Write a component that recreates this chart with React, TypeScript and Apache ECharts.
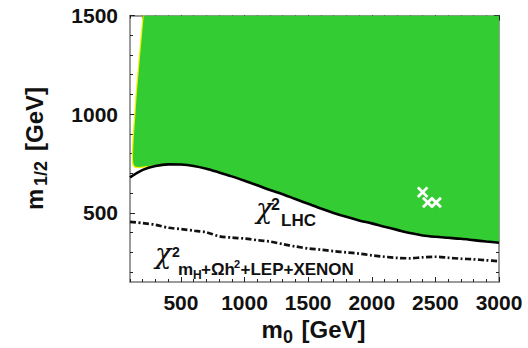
import React, { useEffect, useRef } from "react";
import * as echarts from "echarts";

// m0 grid (GeV) shared by both exclusion contours
const m0Grid = [
  100, 200, 300, 400, 500, 600, 700, 800, 900, 1000, 1100, 1200, 1300, 1400, 1500,
  1600, 1700, 1800, 1900, 2000, 2100, 2200, 2300, 2400, 2500, 2600, 2700, 2800, 2900, 3000,
];

// chi^2 LHC contour: m1/2 (GeV)
const lhcM12 = [
  680, 718, 738, 746, 745, 738, 724, 705, 685, 663, 640, 616, 595, 570, 546,
  522, 500, 480, 462, 447, 430, 414, 398, 386, 379, 374, 369, 362, 355, 349,
];

// chi^2 mH + Omega h^2 + LEP + XENON contour: m1/2 (GeV)
const lowM12 = [
  455, 448, 440, 425, 418, 410, 402, 382, 375, 370, 362, 355, 342, 330, 320,
  314, 306, 300, 294, 285, 278, 272, 270, 275, 278, 273, 268, 265, 260, 255,
];

// left / lower edge of the favoured (green) region, before it meets the LHC contour
const edgeM0 = [208, 197, 184, 172, 161, 151, 143, 135, 128, 124, 124, 129, 141, 170, 230, 300, 380];
const edgeM12 = [1500, 1420, 1330, 1240, 1160, 1080, 1000, 930, 860, 800, 765, 745, 735, 733, 737, 741, 746];

// best-fit points
const crossM0 = [2400, 2440, 2506];
const crossM12 = [605, 553, 553];

// axes
const X_MIN = 100;
const X_MAX = 3000;
const Y_MIN = 150;
const Y_MAX = 1500;
const xMajor = [500, 1000, 1500, 2000, 2500, 3000];
const xMinor = Array.from({ length: 30 }, (_, i) => (i + 1) * 100);
const yMajor = [500, 1000, 1500];
const yMinor = Array.from({ length: 14 }, (_, i) => (i + 2) * 100);

const GREEN = "#33cc33";
const YELLOW = "#f2f200";
const FRAME = "#7a7a7a";
const TICK = "#222222";
const SANS = "'Liberation Sans', Arial, Helvetica, sans-serif";
const SERIF = "'DejaVu Serif', 'Liberation Serif', serif";

function buildOption() {
  const pair = (xs: number[], ys: number[]) => xs.map((x, i) => [x, ys[i]]);

  const edge = pair(edgeM0, edgeM12);
  const lhc = pair(m0Grid, lhcM12);
  const greenRegion = [
    ...edge,
    ...lhc.filter((p) => p[0] >= 500),
    [X_MAX, Y_MAX],
  ];

  const axisLine = { show: true, onZero: false, lineStyle: { color: FRAME, width: 1.5 } };
  const tickStyle = { color: TICK, width: 1 };
  const labelFont = {
    fontSize: 21,
    fontWeight: "bold" as const,
    color: "#111",
    fontFamily: SANS,
    formatter: (v: number) => String(v),
  };

  const xBase = { type: "value" as const, min: X_MIN, max: X_MAX, splitLine: { show: false } };
  const yBase = { type: "value" as const, min: Y_MIN, max: Y_MAX, splitLine: { show: false } };

  const xAxis = [
    {
      ...xBase,
      position: "bottom",
      axisLine,
      axisTick: { show: true, inside: true, length: 3, customValues: xMinor, lineStyle: tickStyle },
      axisLabel: { show: true, customValues: xMajor, margin: 10, ...labelFont },
    },
    {
      ...xBase,
      position: "bottom",
      axisLine: { show: false },
      axisTick: { show: true, inside: true, length: 5, customValues: xMajor, lineStyle: tickStyle },
      axisLabel: { show: false },
    },
    {
      ...xBase,
      position: "top",
      axisLine,
      axisTick: { show: true, inside: true, length: 3, customValues: xMinor, lineStyle: tickStyle },
      axisLabel: { show: false },
    },
    {
      ...xBase,
      position: "top",
      axisLine: { show: false },
      axisTick: { show: true, inside: true, length: 5, customValues: xMajor, lineStyle: tickStyle },
      axisLabel: { show: false },
    },
  ];

  const yAxis = [
    {
      ...yBase,
      position: "left",
      axisLine,
      axisTick: { show: true, inside: true, length: 3, customValues: yMinor, lineStyle: tickStyle },
      axisLabel: { show: true, customValues: yMajor, margin: 12, ...labelFont },
    },
    {
      ...yBase,
      position: "left",
      axisLine: { show: false },
      axisTick: { show: true, inside: true, length: 5, customValues: yMajor, lineStyle: tickStyle },
      axisLabel: { show: false },
    },
    {
      ...yBase,
      position: "right",
      axisLine,
      axisTick: { show: true, inside: true, length: 3, customValues: yMinor, lineStyle: tickStyle },
      axisLabel: { show: false },
    },
    {
      ...yBase,
      position: "right",
      axisLine: { show: false },
      axisTick: { show: true, inside: true, length: 5, customValues: yMajor, lineStyle: tickStyle },
      axisLabel: { show: false },
    },
  ];

  const txt = (
    x: number,
    y: number,
    text: string,
    fontSize: number,
    opts: Record<string, unknown> = {}
  ) => ({
    type: "text",
    x,
    y,
    silent: true,
    style: {
      text,
      fontSize,
      fontWeight: "bold",
      fontFamily: SANS,
      fill: "#111",
      align: "left",
      verticalAlign: "middle",
      ...opts,
    },
  });
  const chi = (x: number, y: number) =>
    txt(x, y, "χ", 27, { fontFamily: SERIF, fontStyle: "italic", fontWeight: "normal" });

  const graphic = [
    // x-axis title: m0 [GeV]
    txt(261.5, 329.7, "m", 24),
    txt(283, 336.8, "0", 18),
    txt(301.5, 329.7, "[GeV]", 24),
    // y-axis title: m1/2 [GeV]
    {
      type: "group",
      x: 42.5,
      y: 210,
      rotation: Math.PI / 2,
      silent: true,
      children: [txt(0, -8.3, "m", 24), txt(24, -1.7, "1/2", 18), txt(59, -8.3, "[GeV]", 24)],
    },
    // chi^2_LHC
    chi(256, 208),
    txt(271, 204, "2", 16),
    txt(281, 220, "LHC", 17),
    // chi^2_{mH + Omega h^2 + LEP + XENON}
    chi(155, 253),
    txt(172, 252, "2", 14),
    txt(178, 269, "m", 17),
    txt(193, 274.8, "H", 12),
    txt(201, 269, "+Ωh", 17),
    txt(234, 264, "2", 11),
    txt(240.5, 269, "+LEP+XENON", 17),
  ];

  return {
    animation: false,
    backgroundColor: "#ffffff",
    grid: { left: 130, top: 15.5, right: 29, bottom: 66, containLabel: false, outerBoundsMode: "none" },
    xAxis,
    yAxis,
    graphic,
    series: [
      {
        // thin yellow rim around the favoured region
        type: "line",
        data: edge,
        xAxisIndex: 0,
        yAxisIndex: 0,
        showSymbol: false,
        smooth: 0.3,
        lineStyle: { color: YELLOW, width: 2.5 },
        z: 1,
        silent: true,
      },
      {
        type: "custom",
        xAxisIndex: 0,
        yAxisIndex: 0,
        data: [[1000, 1000]],
        clip: true,
        silent: true,
        z: 2,
        renderItem: (_params: unknown, api: any) => ({
          type: "polygon",
          shape: { points: greenRegion.map((p) => api.coord(p)) },
          style: { fill: GREEN },
        }),
      },
      {
        type: "line",
        data: lhc,
        xAxisIndex: 0,
        yAxisIndex: 0,
        showSymbol: false,
        smooth: 0.3,
        lineStyle: { color: "#000", width: 2.6 },
        z: 3,
        silent: true,
      },
      {
        type: "line",
        data: pair(m0Grid, lowM12),
        xAxisIndex: 0,
        yAxisIndex: 0,
        showSymbol: false,
        smooth: 0.3,
        lineStyle: { color: "#111", width: 2.7, type: [6, 2.5, 2, 2.5] },
        z: 3,
        silent: true,
      },
      {
        type: "custom",
        xAxisIndex: 0,
        yAxisIndex: 0,
        data: pair(crossM0, crossM12),
        clip: true,
        silent: true,
        z: 4,
        renderItem: (_params: unknown, api: any) => {
          const [cx, cy] = api.coord([api.value(0), api.value(1)]);
          const h = 4.8;
          const style = { stroke: "#ffffff", lineWidth: 2.8, lineCap: "butt" };
          return {
            type: "group",
            children: [
              { type: "line", shape: { x1: cx - h, y1: cy - h, x2: cx + h, y2: cy + h }, style },
              { type: "line", shape: { x1: cx - h, y1: cy + h, x2: cx + h, y2: cy - h }, style },
            ],
          };
        },
      },
    ],
  };
}

export default function App() {
  const ref = useRef<HTMLDivElement>(null);

  useEffect(() => {
    if (!ref.current) return;
    const chart = echarts.init(ref.current, undefined, { renderer: "svg" });
    chart.setOption(buildOption() as any);
    return () => chart.dispose();
  }, []);

  return (
    <div
      ref={ref}
      style={{ position: "fixed", left: 0, top: 0, width: 528, height: 348, background: "#fff" }}
    />
  );
}
